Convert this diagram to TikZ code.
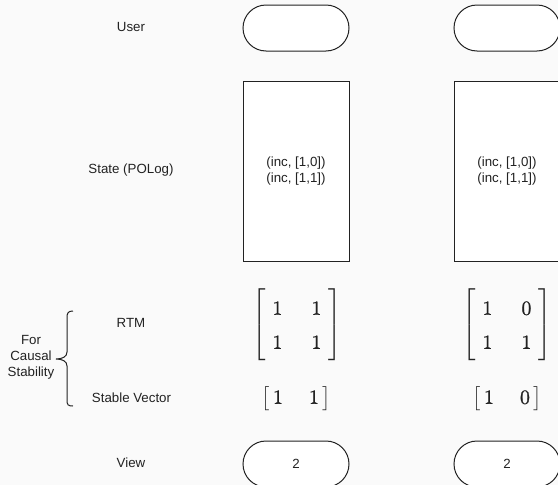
\documentclass[tikz,border=0pt]{standalone}
\usepackage{amsmath}
\usepackage{graphicx}
\usepackage[no-math]{fontspec}
\setmainfont{Liberation Sans}
\newfontfamily\matfont{Latin Modern Roman}[FakeBold=1.2]
\definecolor{bg}{HTML}{FAFAFA}
\definecolor{ink}{HTML}{222222}
\newcommand{\md}[1]{\mbox{\matfont #1}}
\newcommand{\bigmat}[1]{\scalebox{2}{$\renewcommand{\arraystretch}{1.42}\setlength{\arraycolsep}{7.25pt}\left[\hspace{3.5pt}\begin{matrix}#1\end{matrix}\hspace{3.5pt}\right]$}}
\newcommand{\bigvec}[1]{\scalebox{2}{$\setlength{\arraycolsep}{6.5pt}\left[\hspace{1.5pt}\begin{matrix}#1\end{matrix}\hspace{1.5pt}\right]$}}
\begin{document}
\begin{tikzpicture}[x=1pt,y=-1pt,
  lbl/.style={font=\fontsize{13.3}{16}\selectfont, text=ink, inner sep=0pt},
  pill/.style={draw=ink, fill=white, line width=1pt, rounded corners=23pt,
    minimum width=106pt, minimum height=46pt, inner sep=0pt,
    font=\fontsize{13.3}{16}\selectfont, text=ink},
  logbox/.style={draw=ink, fill=white, line width=1pt, minimum width=106pt,
    minimum height=180pt, inner sep=0pt, align=center,
    font=\fontsize{13.3}{15.5}\selectfont, text=ink},
  mat/.style={inner sep=0pt, text=ink, font=\fontsize{10}{12}\selectfont},
  bracestyle/.style={draw=ink, line width=1pt}
]
\fill[bg] (0,0) rectangle (558,485);
\useasboundingbox (0,0) rectangle (558,485);

% row labels
\node[lbl] (user) at (131,27) {User};
\node[lbl] (state) at (131,170) {State (POLog)};
\node[lbl] (rtm) at (131,323) {RTM};
\node[lbl] (sv) at (131.5,398) {Stable Vector};
\node[lbl, align=center, font=\fontsize{13.3}{16}\selectfont] (cs) at (31,357) {For\\Causal\\Stability};
\node[lbl] (view) at (131,463) {View};

% user pills
\node[pill] (u1) at (296,28) {};
\node[pill] (u2) at (507,28) {};

% state boxes
\node[logbox] (s1) at (296,171) {(inc, [1,0])\\(inc, [1,1])};
\node[logbox] (s2) at (507,171) {(inc, [1,0])\\(inc, [1,1])};

% matrices
\node[mat] (m1) at (297,325) {\bigmat{\md1&\md1\\\md1&\md1}};
\node[mat] (m2) at (507,325) {\bigmat{\md1&\md0\\\md1&\md1}};

% stable vectors
\node[mat] (v1) at (296,399) {\bigvec{\md1&\md1}};
\node[mat] (v2) at (507,399) {\bigvec{\md1&\md0}};

% view pills
\node[pill] (w1) at (296,464) {2};
\node[pill] (w2) at (507,464) {2};

% brace
\draw[bracestyle] (73,311) .. controls (68,311) and (67,313) .. (67,318) -- (67,352)
  .. controls (67,357) and (62,359) .. (56,359)
  .. controls (62,359) and (67,361) .. (67,366) -- (67,400)
  .. controls (67,405) and (68,406) .. (73,406);
\end{tikzpicture}
\end{document}
